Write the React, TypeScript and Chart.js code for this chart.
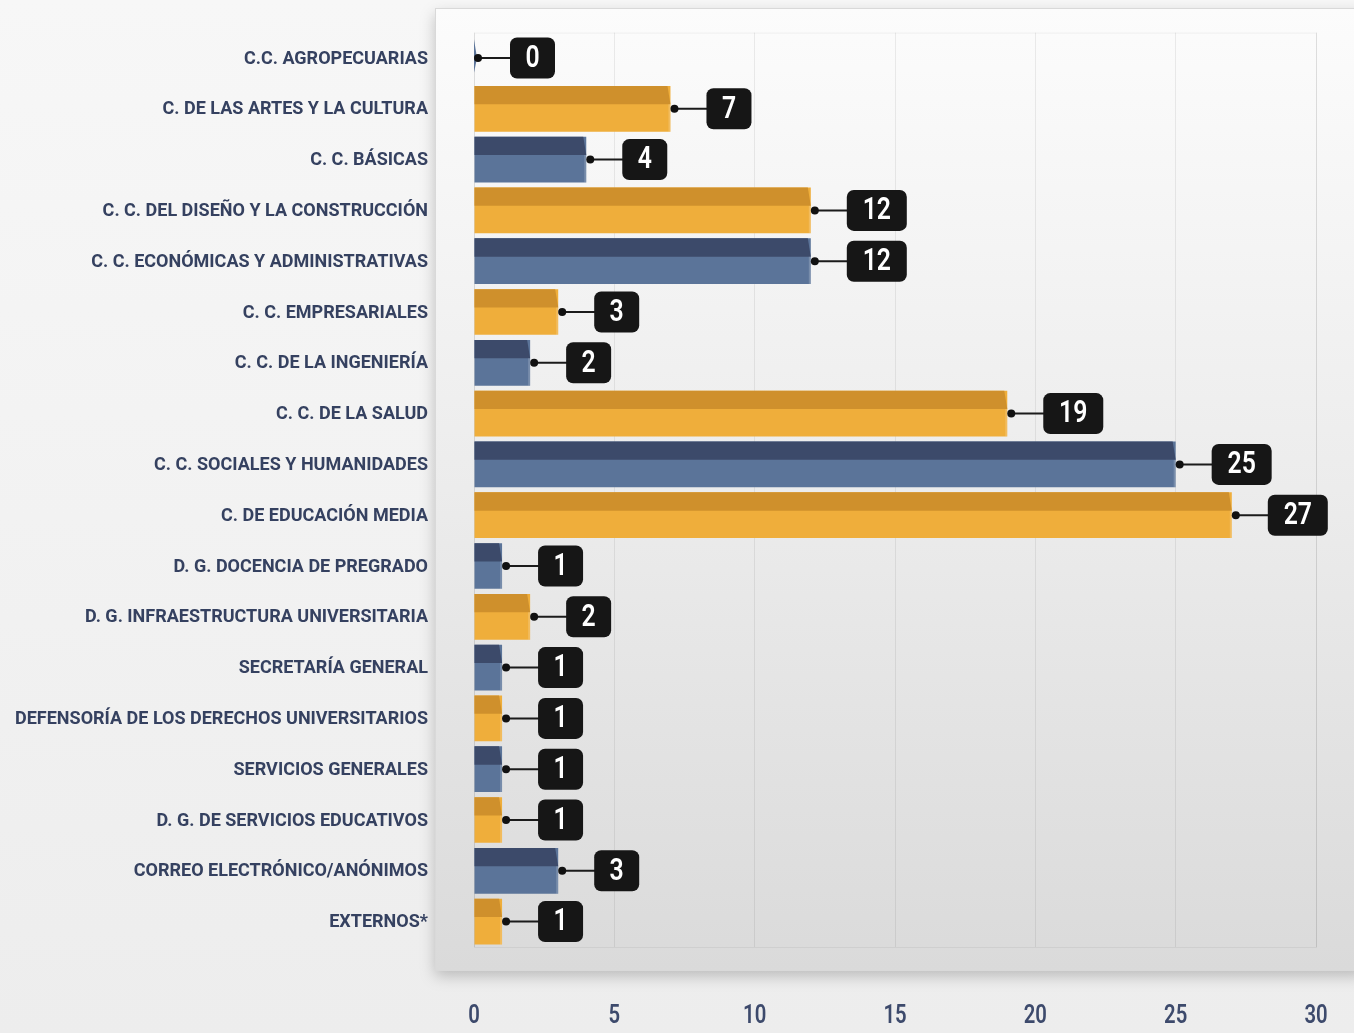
import React, { useEffect, useRef } from "react";
import { Chart, registerables } from "chart.js";

Chart.register(...registerables);

const categories: string[] = [
  "C.C. AGROPECUARIAS",
  "C. DE LAS ARTES Y LA CULTURA",
  "C. C. BÁSICAS",
  "C. C. DEL DISEÑO Y LA CONSTRUCCIÓN",
  "C. C. ECONÓMICAS Y ADMINISTRATIVAS",
  "C. C. EMPRESARIALES",
  "C. C. DE LA INGENIERÍA",
  "C. C. DE LA SALUD",
  "C. C. SOCIALES Y HUMANIDADES",
  "C. DE EDUCACIÓN MEDIA",
  "D. G. DOCENCIA DE PREGRADO",
  "D. G. INFRAESTRUCTURA UNIVERSITARIA",
  "SECRETARÍA GENERAL",
  "DEFENSORÍA DE LOS DERECHOS UNIVERSITARIOS",
  "SERVICIOS GENERALES",
  "D. G. DE SERVICIOS EDUCATIVOS",
  "CORREO ELECTRÓNICO/ANÓNIMOS",
  "EXTERNOS*",
];

const values: number[] = [0, 7, 4, 12, 12, 3, 2, 19, 25, 27, 1, 2, 1, 1, 1, 1, 3, 1];

const xTicks: number[] = [0, 5, 10, 15, 20, 25, 30];

const FRONT = ["#5b7499", "#efae3b"];
const TOP = ["#3c4a6a", "#cf902c"];
const FONT = "Roboto, 'DejaVu Sans', sans-serif";
const LONGEST_LABEL_W = 413;
const LABEL_RIGHT = 428;

function squeezedText(ctx: any, text: string, x: number, y: number, sx: number, align: string) {
  ctx.save();
  ctx.translate(x, y);
  ctx.scale(sx, 1);
  ctx.textAlign = align;
  ctx.fillText(text, 0, 0);
  ctx.restore();
}

const bgPlugin = {
  id: "bgPanel",
  beforeDraw(chart: any) {
    const { ctx, width, height } = chart;
    ctx.save();
    const g = ctx.createLinearGradient(0, 0, 0, height);
    g.addColorStop(0, "#f7f7f7");
    g.addColorStop(1, "#ededed");
    ctx.fillStyle = g;
    ctx.fillRect(0, 0, width, height);
    const px = 435, py = 8, pw = width - px + 10, ph = 962;
    ctx.shadowColor = "rgba(0,0,0,0.22)";
    ctx.shadowBlur = 14;
    ctx.shadowOffsetY = 6;
    const pg = ctx.createLinearGradient(0, py, 0, py + ph);
    pg.addColorStop(0, "#fcfcfc");
    pg.addColorStop(0.5, "#ececec");
    pg.addColorStop(1, "#dadada");
    ctx.fillStyle = pg;
    ctx.fillRect(px, py, pw, ph);
    ctx.shadowColor = "transparent";
    ctx.strokeStyle = "#d9d9d9";
    ctx.lineWidth = 1;
    ctx.strokeRect(px + 0.5, py + 0.5, pw, ph);
    const ca = chart.chartArea;
    ctx.strokeStyle = "rgba(0,0,0,0.05)";
    ctx.strokeRect(ca.left + 0.5, ca.top + 0.5, ca.right - ca.left, ca.bottom - ca.top);
    ctx.restore();
  },
};

const textPlugin = {
  id: "texts",
  afterDraw(chart: any) {
    const { ctx } = chart;
    const yScale = chart.scales.y;
    const xScale = chart.scales.x;
    ctx.save();
    ctx.font = `700 18.5px ${FONT}`;
    ctx.fillStyle = "#354160";
    ctx.textBaseline = "middle";
    let maxW = 0;
    categories.forEach((c) => {
      maxW = Math.max(maxW, ctx.measureText(c).width);
    });
    const sx = LONGEST_LABEL_W / maxW;
    categories.forEach((c, i) => {
      const y = yScale.getPixelForValue(i);
      squeezedText(ctx, c, LABEL_RIGHT, y + 1, sx, "right");
    });
    ctx.font = `600 26px ${FONT}`;
    ctx.fillStyle = "#3d4a6c";
    xTicks.forEach((v) => {
      squeezedText(ctx, String(v), xScale.getPixelForValue(v), 1016, 0.78, "center");
    });
    ctx.restore();
  },
};

const barPlugin = {
  id: "bar3d",
  afterDatasetsDraw(chart: any) {
    const { ctx } = chart;
    const meta = chart.getDatasetMeta(0);
    ctx.save();
    meta.data.forEach((el: any, i: number) => {
      const { x, y, base, height } = el.getProps(["x", "y", "base", "height"], true);
      const top = y - height / 2;
      const v = values[i];
      const p = i % 2;
      if (x - base > 0.5) {
        const th = height * 0.4;
        ctx.fillStyle = TOP[p];
        ctx.beginPath();
        ctx.moveTo(base, top);
        ctx.lineTo(x - 3, top);
        ctx.lineTo(x, top + th);
        ctx.lineTo(base, top + th);
        ctx.closePath();
        ctx.fill();
        ctx.fillStyle = "rgba(255,255,255,0.18)";
        ctx.fillRect(x - 2, top + th, 2, height - th);
      } else {
        ctx.fillStyle = FRONT[p];
        ctx.beginPath();
        ctx.moveTo(base, top + 4);
        ctx.lineTo(base + 3, y);
        ctx.lineTo(base, y + height / 2 - 8);
        ctx.closePath();
        ctx.fill();
      }
      const dotX = x + 4;
      const text = String(v);
      const bw = text.length > 1 ? 60 : 45;
      const bh = 41;
      const bx = x + 36;
      const by = y - bh / 2;
      ctx.strokeStyle = "#1b1b1b";
      ctx.lineWidth = 2;
      ctx.beginPath();
      ctx.moveTo(dotX, y);
      ctx.lineTo(bx + 2, y);
      ctx.stroke();
      ctx.fillStyle = "#111";
      ctx.beginPath();
      ctx.arc(dotX, y, 4, 0, Math.PI * 2);
      ctx.fill();
      ctx.fillStyle = "#161616";
      ctx.beginPath();
      (ctx as any).roundRect(bx, by, bw, bh, 7);
      ctx.fill();
      ctx.fillStyle = "#ffffff";
      ctx.font = `600 31px ${FONT}`;
      ctx.textBaseline = "middle";
      squeezedText(ctx, text, bx + bw / 2, y + 1, 0.8, "center");
    });
    ctx.restore();
  },
};

export default function App() {
  const ref = useRef<HTMLCanvasElement | null>(null);
  useEffect(() => {
    document.body.style.margin = "0";
    const canvas = ref.current!;
    const chart = new Chart(canvas, {
      type: "bar",
      data: {
        labels: categories,
        datasets: [
          {
            data: values,
            backgroundColor: values.map((_, i) => FRONT[i % 2]),
            borderWidth: 0,
            barPercentage: 0.9,
            categoryPercentage: 1,
          },
        ],
      },
      options: {
        indexAxis: "y",
        animation: false,
        responsive: false,
        layout: { padding: { top: 32.6, right: 38, left: 0, bottom: 0 } },
        plugins: { legend: { display: false }, tooltip: { enabled: false } },
        scales: {
          x: {
            min: 0,
            max: 30,
            afterBuildTicks: (scale: any) => {
              scale.ticks = xTicks.map((v) => ({ value: v }));
            },
            afterFit: (scale: any) => {
              scale.height = 86;
            },
            border: { display: false },
            grid: {
              color: "rgba(0,0,0,0.07)",
              lineWidth: 1,
              drawTicks: false,
            },
            ticks: { display: false },
          },
          y: {
            afterFit: (scale: any) => {
              scale.width = 474;
            },
            border: { display: false },
            grid: { display: false, drawTicks: false },
            ticks: { display: false },
          },
        },
      },
      plugins: [bgPlugin, barPlugin, textPlugin],
    } as any);
    return () => chart.destroy();
  }, []);
  return <canvas ref={ref} width={1354} height={1033} style={{ display: "block" }} />;
}
